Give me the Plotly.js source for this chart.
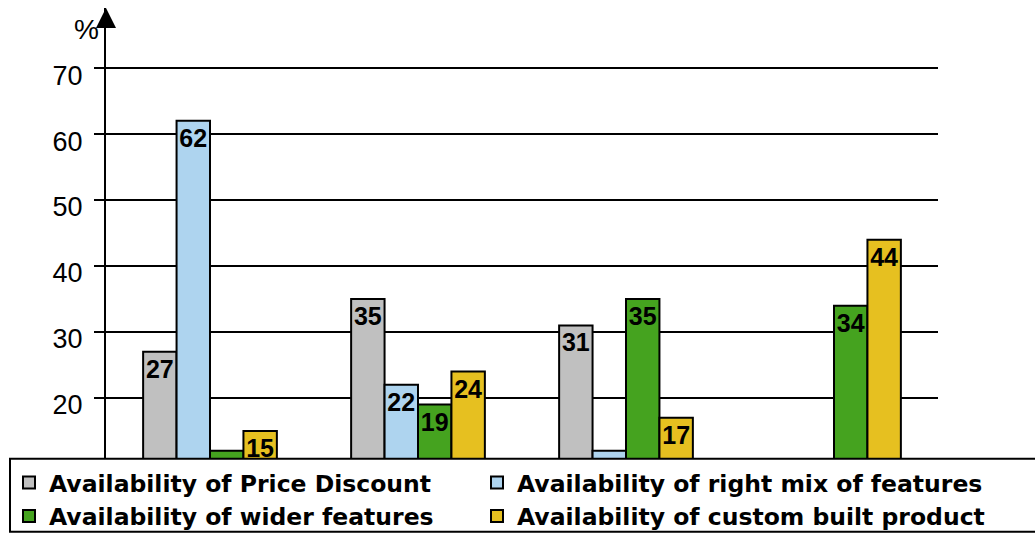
<!DOCTYPE html>
<html>
<head>
<meta charset="utf-8">
<script src="https://cdn.plot.ly/plotly-3.0.1.min.js"></script>
<style>html,body{margin:0;padding:0;background:#fff;}#chart{width:1035px;height:536px;}</style>
</head>
<body>
<div id="chart"></div>
<script>
// Categories (labels are cut off in the reference picture)
const categories = ['Group 1', 'Group 2', 'Group 3', 'Group 4'];
// Series values (%)
const priceDiscount = [27, 35, 31, null];
const rightMix      = [62, 22, 12, null];
const widerFeatures = [12, 19, 35, 34];
const customBuilt   = [15, 24, 17, 44];
// Series names
const seriesNames = [
  'Availability of Price Discount',
  'Availability of right mix of features',
  'Availability of wider features',
  'Availability of custom built product'
];
const yTickVals = [0, 10, 20, 30, 40, 50, 60, 70];

const colors = ['#C0C0C0', '#AED4EF', '#45A31F', '#E6C020'];
const seriesData = [priceDiscount, rightMix, widerFeatures, customBuilt];
const legendOf = ['legend', 'legend2', 'legend', 'legend2'];

const traces = seriesData.map((vals, i) => ({
  type: 'bar',
  name: seriesNames[i],
  legend: legendOf[i],
  x: categories,
  y: vals,
  text: vals.map(v => v === null ? '' : String(v)),
  textposition: 'inside',
  insidetextanchor: 'end',
  constraintext: 'none',
  textangle: 0,
  textfont: {family: 'Liberation Sans, Arial, sans-serif', size: 25, color: '#000', weight: 'bold'},
  marker: {color: colors[i], line: {color: '#000', width: 2}},
  cliponaxis: false
}));

// plot area: left 106, right 938, top 8, bottom 530
const W = 1035, H = 536;
const L = 106, R = 938, T = 8, B = 530.3;
const pw = R - L, ph = B - T;
const px = x => (x - L) / pw;
const py = y => (B - y) / ph;

const legendFont = {family: 'DejaVu Sans, Verdana, sans-serif', size: 23.5, color: '#000', weight: 'bold'};
const legendBase = {
  orientation: 'v',
  xanchor: 'left',
  y: py(539), yanchor: 'bottom',
  bgcolor: 'rgba(0,0,0,0)',
  borderwidth: 0,
  font: legendFont,
  traceorder: 'normal',
  itemclick: false
};

const layout = {
  width: W, height: H,
  margin: {l: L, r: W - R, t: T, b: H - B, autoexpand: false},
  paper_bgcolor: '#fff', plot_bgcolor: '#fff',
  barmode: 'group',
  bargap: 0.357,
  bargroupgap: 0,
  showlegend: true,
  font: {family: 'Liberation Sans, Arial, sans-serif', color: '#000'},
  xaxis: {
    type: 'category',
    showticklabels: false,
    showgrid: false,
    showline: true, linecolor: '#000', linewidth: 2,
    ticks: '', zeroline: false,
    fixedrange: true
  },
  yaxis: {
    range: [0, 79.1],
    tickvals: yTickVals,
    ticks: 'outside', ticklen: 10, tickwidth: 2, tickcolor: '#000',
    ticklabelstandoff: 6,
    ticklabelshift: 7,
    tickfont: {family: 'Liberation Sans, Arial, sans-serif', size: 27, color: '#000'},
    showgrid: true, gridcolor: '#000', gridwidth: 2,
    showline: true, linecolor: '#000', linewidth: 2,
    zeroline: false,
    fixedrange: true
  },
  legend: Object.assign({}, legendBase, {x: px(9)}),
  legend2: Object.assign({}, legendBase, {x: px(477)}),
  shapes: [{
    type: 'rect', xref: 'paper', yref: 'paper', layer: 'above',
    x0: px(10), x1: px(1040), y0: py(532), y1: py(459),
    fillcolor: '#fff', line: {color: '#000', width: 2}
  }],
  annotations: [
    {xref: 'paper', yref: 'paper', x: 0, y: 1, ax: 0, ay: 14,
     showarrow: true, arrowhead: 2, arrowsize: 2, arrowwidth: 2, arrowcolor: '#000', text: ''},
    {xref: 'paper', yref: 'paper', x: px(86), y: py(30), xanchor: 'center', yanchor: 'middle',
     showarrow: false,
     text: '%', font: {family: 'Liberation Sans, Arial, sans-serif', size: 28, color: '#000'}}
  ]
};

Plotly.newPlot('chart', traces, layout, {staticPlot: true, displayModeBar: false});
</script>
</body>
</html>
